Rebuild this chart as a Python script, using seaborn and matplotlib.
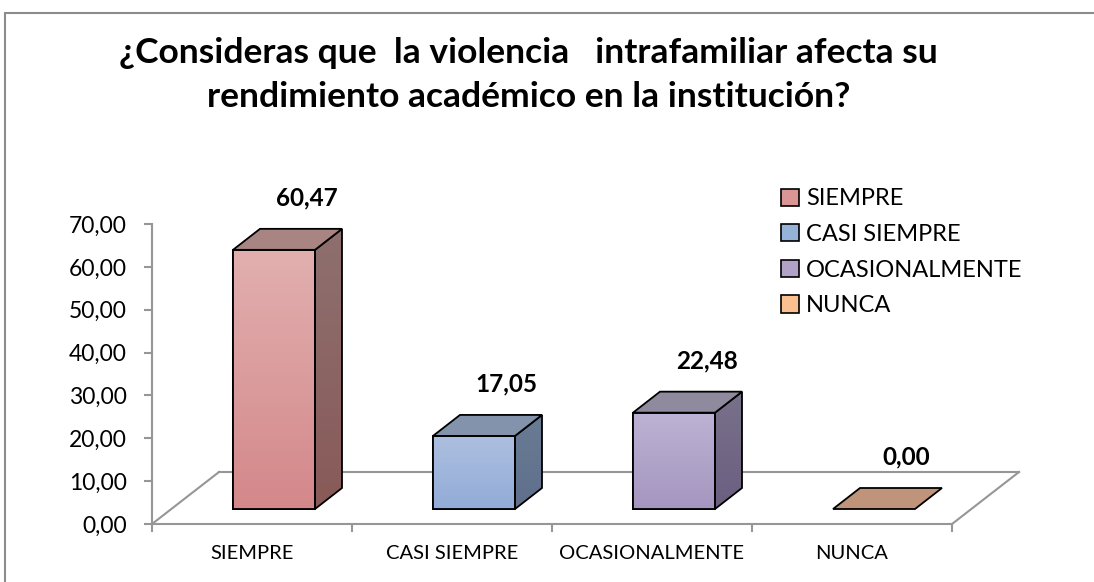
import numpy as np
import pandas as pd
import seaborn as sns
import matplotlib.pyplot as plt
from matplotlib.patches import Polygon, Patch, Rectangle
from matplotlib.colors import LinearSegmentedColormap

# data
categories = ["SIEMPRE", "CASI SIEMPRE", "OCASIONALMENTE", "NUNCA"]
values = [60.47, 17.05, 22.48, 0.00]
labels = ["60,47", "17,05", "22,48", "0,00"]
yticks = [0, 10, 20, 30, 40, 50, 60, 70]
ytick_labels = ["0,00", "10,00", "20,00", "30,00", "40,00", "50,00", "60,00", "70,00"]

title = "¿Consideras que  la violencia   intrafamiliar afecta su\nrendimiento académico en la institución?"

# colours (front top, front bottom, side top, side bottom, top face, legend)
front_top = ["#E2AFAF", "#ADBFDF", "#BDB2D4", "#C2967E"]
front_bot = ["#D4888A", "#92ACD8", "#A596BF", "#C2967E"]
side_top = ["#8E706F", "#6A7C94", "#79718A", "#C2967E"]
side_bot = ["#885A58", "#5F6F8C", "#6A5F80", "#C2967E"]
top_col = ["#A88482", "#8393AB", "#908A9E", "#C0937B"]
legend_col = ["#D99694", "#95B3D7", "#B3A2C7", "#FAC090"]

plt.rcParams["font.family"] = ["Lato", "DejaVu Sans"]

df = pd.DataFrame({"cat": categories, "val": values})

fig = plt.figure(figsize=(10.94, 5.82), dpi=100)
ax = fig.add_axes([152 / 1094, 58 / 582, 800 / 1094, 300 / 582])

sns.barplot(data=df, x="cat", y="val", hue="cat", palette=front_bot, width=0.41,
            edgecolor="black", linewidth=1.3, legend=False, ax=ax, zorder=3)

ax.set_xlim(-0.5, 3.5)
ax.set_ylim(0, 70)

# pixel -> data conversions
px_x = 4 / 800
px_y = 70 / 300
base_dx, base_dy = 22 * px_x, 15 * px_y      # bars sit a bit back on the floor
bar_dx, bar_dy = 27 * px_x, 21 * px_y        # depth of each bar
floor_dx, floor_dy = 67 * px_x, 52 * px_y    # depth of the floor


def gradient_fill(poly, c1, c2, z):
    cmap = LinearSegmentedColormap.from_list("g", [c2, c1])
    xy = np.asarray(poly.get_xy())
    x0, x1 = xy[:, 0].min(), xy[:, 0].max()
    y0, y1 = xy[:, 1].min(), xy[:, 1].max()
    im = ax.imshow(np.linspace(0, 1, 64).reshape(-1, 1), cmap=cmap, origin="lower",
                   extent=(x0, x1, y0, y1), aspect="auto", zorder=z)
    im.set_clip_path(poly)


edge = dict(edgecolor="black", lw=1.3)
bars = ax.patches[:len(categories)]
for i, p in enumerate(bars):
    x0 = p.get_x() + base_dx
    x1 = x0 + p.get_width()
    y0 = base_dy
    y1 = y0 + p.get_height()
    p.set_x(x0)
    p.set_y(y0)
    top = Polygon([(x0, y1), (x1, y1), (x1 + bar_dx, y1 + bar_dy), (x0 + bar_dx, y1 + bar_dy)],
                  closed=True, facecolor=top_col[i], zorder=4, clip_on=False, **edge)
    if values[i] > 0:
        front = Polygon([(x0, y0), (x1, y0), (x1, y1), (x0, y1)], closed=True,
                        facecolor="none", zorder=3.5, **edge)
        side = Polygon([(x1, y0), (x1 + bar_dx, y0 + bar_dy), (x1 + bar_dx, y1 + bar_dy), (x1, y1)],
                       closed=True, facecolor="none", zorder=3.5, clip_on=False, **edge)
        ax.add_patch(front)
        ax.add_patch(side)
        gradient_fill(front, front_top[i], front_bot[i], 3.1)
        gradient_fill(side, side_top[i], side_bot[i], 3.1)
    else:
        p.set_visible(False)
    ax.add_patch(top)
    ax.annotate(labels[i], ((x0 + x1) / 2 + bar_dx, y1 + bar_dy), xytext=(4, 14),
                textcoords="offset points", ha="center", va="bottom",
                fontsize=17.5, fontweight="bold", annotation_clip=False)

ax.set_xlim(-0.5, 3.5)
ax.set_ylim(0, 70)

# floor outline
floor_kw = dict(color="#969696", lw=1.5, zorder=1, clip_on=False)
ax.plot([-0.5, -0.5 + floor_dx], [0, floor_dy], **floor_kw)
ax.plot([-0.5 + floor_dx, 3.5 + floor_dx], [floor_dy, floor_dy], **floor_kw)
ax.plot([3.5, 3.5 + floor_dx], [0, floor_dy], **floor_kw)

# axes styling
for s in ["top", "right"]:
    ax.spines[s].set_visible(False)
for s in ["left", "bottom"]:
    ax.spines[s].set_color("#969696")
    ax.spines[s].set_linewidth(1.5)
ax.set_yticks(yticks)
ax.set_yticklabels(ytick_labels, fontsize=16.5)
ax.tick_params(axis="y", length=6, width=1.5, color="#969696", pad=12)
ax.set_xticks(range(len(categories)))
ax.set_xticklabels(categories, fontsize=14.5)
ax.set_xticks([-0.5, 0.5, 1.5, 2.5, 3.5], minor=True)
ax.tick_params(axis="x", which="major", length=0, pad=15)
ax.tick_params(axis="x", which="minor", length=6, width=1.5, color="#969696")
ax.set_xlabel("")
ax.set_ylabel("")
ax.set_facecolor("none")

# legend
handles = [Patch(facecolor=c, edgecolor="black", lw=1.2) for c in legend_col]
fig.legend(handles, categories, loc="upper left", bbox_to_anchor=(772 / 1094, 1 - 179 / 582),
           frameon=False, fontsize=17, handlelength=0.75, handleheight=0.75,
           handletextpad=0.3, labelspacing=0.62, borderaxespad=0)

# title
fig.text(0.483, 1 - 75 / 582, title, ha="center", va="center", fontsize=25.5,
         fontweight="bold", linespacing=1.45)

# chart-area border
fig.patches.append(Rectangle((5 / 1094, -0.1), 1.2, 1 - 13 / 582 + 0.1, transform=fig.transFigure,
                             fill=False, edgecolor="#8C8C8C", lw=1.5))

fig.savefig("out.png", dpi=100)
